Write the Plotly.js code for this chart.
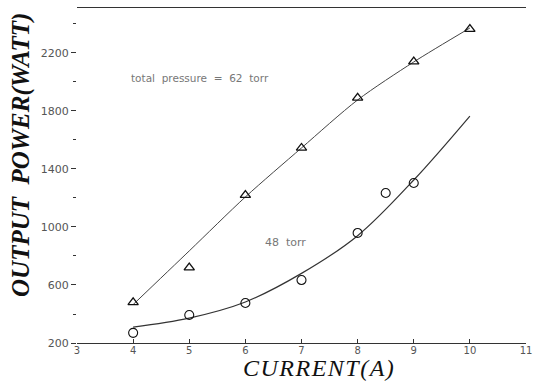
<!DOCTYPE html>
<html><head><meta charset="utf-8">
<script src="https://cdn.plot.ly/plotly-3.0.1.min.js"></script>
<style>html,body{margin:0;padding:0;background:#fff}#c{width:538px;height:385px}</style>
</head><body><div id="c"></div>
<script>
const currentA = [4, 5, 6, 7, 8, 9, 10];
const power62 = [480, 720, 1220, 1545, 1890, 2140, 2365];
const fit62 = [465, 835, 1207, 1545, 1876, 2138, 2372];
const current48 = [4, 5, 6, 7, 8, 8.5, 9];
const power48 = [270, 393, 476, 634, 959, 1234, 1303];
const fitX48 = [4, 5, 6, 7, 8, 9, 10];
const fit48 = [310, 372, 483, 680, 940, 1324, 1765];
const yTicks = [200, 600, 1000, 1400, 1800, 2200];
const xTicks = [3, 4, 5, 6, 7, 8, 9, 10, 11];

const traces = [
  {x: currentA, y: fit62, mode: 'lines', line: {shape: 'spline', smoothing: 0.8, color: '#444', width: 1}, hoverinfo: 'skip'},
  {x: fitX48, y: fit48, mode: 'lines', line: {shape: 'spline', color: '#333', width: 1.2}, hoverinfo: 'skip'},
  {x: currentA, y: power62, mode: 'markers', marker: {symbol: 'triangle-up-open', size: 9, color: '#111', line: {width: 1.3}}},
  {x: current48, y: power48, mode: 'markers', marker: {symbol: 'circle-open', size: 9, color: '#111', line: {width: 1.1}}}
];
const layout = {
  width: 538, height: 385,
  margin: {l: 77, r: 12, t: 8, b: 42},
  showlegend: false,
  paper_bgcolor: '#fff', plot_bgcolor: '#fff',
  xaxis: {range: [3, 11], tickvals: xTicks, ticktext: xTicks.map(String), showgrid: false, zeroline: false,
    showline: true, mirror: true, linecolor: '#333', linewidth: 1, ticks: 'inside', ticklen: 4, tickcolor: '#333',
    ticklabelstandoff: -2,
    tickfont: {family: 'DejaVu Sans', size: 10, color: '#555'}},
  yaxis: {range: [200, 2510], tickvals: yTicks, ticktext: yTicks.map(String), showgrid: false, zeroline: false,
    showline: false, ticks: 'outside', ticklen: 5, tickcolor: '#333',
    minor: {tickvals: [400, 800, 1200, 1600, 2000, 2400], ticks: 'outside', ticklen: 3, tickcolor: '#333'},
    tickfont: {family: 'DejaVu Sans', size: 11, color: '#555'}},
  annotations: [
    {xref: 'paper', yref: 'paper', x: 0.539, y: -0.075, xanchor: 'center', yanchor: 'middle', showarrow: false,
     text: '<span style="letter-spacing:1.5px">CURRENT(A)</span>', font: {family: 'Liberation Serif', size: 24, color: '#111', style: 'italic'}},
    {xref: 'paper', yref: 'paper', x: -0.125, y: 0.561, xanchor: 'center', yanchor: 'middle', textangle: -90, showarrow: false,
     text: '<b>OUTPUT  POWER(WATT)</b>', font: {family: 'Liberation Serif', size: 25, color: '#111', style: 'italic'}},
    {x: 3.93, y: 2030, xanchor: 'left', text: 'total  pressure  =  62  torr', showarrow: false, font: {family: 'DejaVu Sans', size: 10.5, color: '#777'}},
    {x: 6.32, y: 890, xanchor: 'left', text: '48  torr', showarrow: false, font: {family: 'DejaVu Sans', size: 11, color: '#777'}}
  ]
};
Plotly.newPlot('c', traces, layout, {displayModeBar: false, staticPlot: true});
</script></body></html>
